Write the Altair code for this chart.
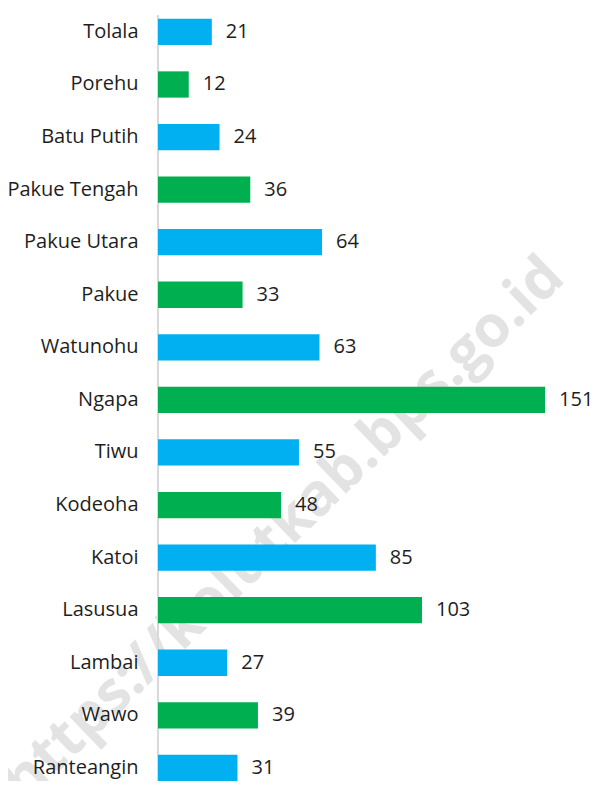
import altair as alt
import pandas as pd

categories = ["Tolala", "Porehu", "Batu Putih", "Pakue Tengah", "Pakue Utara", "Pakue",
              "Watunohu", "Ngapa", "Tiwu", "Kodeoha", "Katoi", "Lasusua", "Lambai",
              "Wawo", "Ranteangin"]
values = [21, 12, 24, 36, 64, 33, 63, 151, 55, 48, 85, 103, 27, 39, 31]
groups = ["a" if i % 2 == 0 else "b" for i in range(len(categories))]

df = pd.DataFrame({"kec": categories, "val": values, "grp": groups})

FONT = "Open Sans"
LEFT = 150
W, H = 586 - LEFT, 773

y_enc = alt.Y("kec:N", sort=categories,
              scale=alt.Scale(paddingInner=0.5, paddingOuter=0.205, range=[0, 783.8]),
              axis=alt.Axis(title=None, domain=False, ticks=False, labelPadding=20,
                            labelFontSize=20, labelFont=FONT, labelColor="#1e1e1e",
                            labelLimit=300, zindex=1))
x_enc = alt.X("val:Q", scale=alt.Scale(domain=[0, W / 2.563], nice=False, zero=True),
              axis=None)

base = alt.Chart(df)

watermark = alt.Chart(pd.DataFrame({"t": ["https://kolutkab.bps.go.id"]})).mark_text(
    angle=316, align="center", baseline="middle", font=FONT, fontSize=58,
    fontWeight="bold", color="#e3e3e3"
).encode(text="t:N", x=alt.value(126), y=alt.value(522))

axis_line = base.mark_rule(color="#d9d9d9", strokeWidth=2).encode(
    x=alt.value(0), y=alt.value(7), y2=alt.value(H))

bars = base.mark_bar().encode(
    y=y_enc, x=x_enc,
    color=alt.Color("grp:N", scale=alt.Scale(domain=["a", "b"], range=["#00B0F0", "#00B050"]),
                    legend=None))

labels = base.mark_text(align="left", baseline="middle", dx=14, font=FONT,
                        fontSize=20, color="#1e1e1e").encode(
    y=alt.Y("kec:N", sort=categories), x="val:Q", text="val:Q")

chart = alt.layer(watermark, axis_line, bars, labels).properties(
    width=W, height=H,
    autosize=alt.AutoSizeParams(type="none"),
    padding={"left": LEFT, "top": 0, "right": 0, "bottom": 0},
).configure_view(stroke=None)

chart.save("out.html", embed_options={"renderer": "svg", "actions": False})
